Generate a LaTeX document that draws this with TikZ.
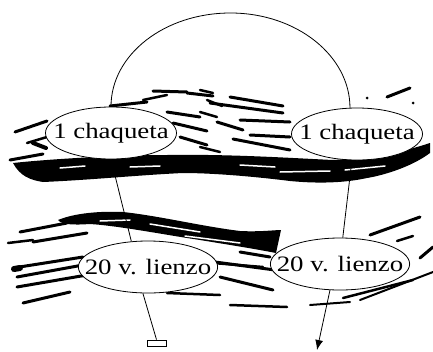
\documentclass[tikz,border=0pt]{standalone}
\usepackage{fontspec}
\newfontfamily\labfont[FakeStretch=1.22]{Liberation Serif}
\usetikzlibrary{shapes.geometric,arrows.meta}

\begin{document}
\begin{tikzpicture}[x=1pt,y=-1pt,
  oval/.style={ellipse,draw,fill=white,line width=0.8pt,inner xsep=-14pt,inner ysep=-4pt,
    minimum width=131pt,minimum height=52pt,font=\labfont\fontsize{22}{25}\selectfont},
  brush/.style={line width=#1,line cap=round},
  link/.style={line width=0.8pt}]
\useasboundingbox (0,0) rectangle (433,351);
% upper brush band
\fill (13,163) .. controls (40,160) and (110,155) .. (167,155) .. controls (230,154) and (290,158) .. (333,160)
  .. controls (370,158) and (400,153) .. (430,143) -- (430,153) .. controls (410,168) and (380,176) .. (367,178)
  .. controls (340,184) and (310,183) .. (290,181) .. controls (250,176) and (210,173) .. (183,173)
  .. controls (140,175) and (90,180) .. (43,182) .. controls (30,180) and (20,176) .. (13,163) -- cycle;
% lower brush band
\fill (58,220) .. controls (75,213) and (100,211) .. (123,212) .. controls (160,216) and (200,226) .. (240,231)
  .. controls (260,232) and (275,230) .. (281,230) -- (276,253) .. controls (250,248) and (230,245) .. (200,240)
  .. controls (160,234) and (120,226) .. (90,224) .. controls (75,225) and (62,225) .. (58,220) -- cycle;
\draw[white,brush=1.5pt] (130,167) -- (160,166) (240,165) -- (275,167) (280,172) -- (330,171)
  (60,168) -- (85,166) (345,170) -- (385,166) (100,221) -- (130,220) (150,224) -- (200,232) (185,236) -- (240,243);
% strokes
\draw[brush=3pt] (110,106) -- (147,102) (153,91) -- (187,92) (187,93) -- (213,96) (167,112) -- (200,117)
  (173,123) -- (207,131) (180,137) -- (207,145) (15,132) -- (47,121) (10,160) -- (43,154)
  (230,97) -- (283,106) (210,103) -- (283,113) (240,120) -- (290,122) (217,122) -- (243,130)
  (250,135) -- (290,137) (233,139) -- (290,150) (387,97) -- (410,88);
\draw[brush=2.5pt] (143,100) -- (167,95) (207,100) -- (222,106) (27,143) -- (47,137) (200,112) -- (217,117)
  (200,147) -- (220,152) (200,90) -- (213,93);
\draw[brush=4pt] (33,143) -- (46,148);
\fill (367,98) circle (1.5) (413,103) circle (1.5);
\draw[brush=3pt] (20,232) -- (67,223) (33,242) -- (87,233) (13,268) -- (83,257) (17,277) -- (83,265)
  (17,287) -- (87,275) (23,303) -- (70,292) (240,252) -- (270,257) (220,277) -- (273,290)
  (370,235) -- (420,217) (420,258) -- (433,247) (215,262) -- (275,270);
\draw[brush=2.5pt] (8,243) -- (33,240) (213,263) -- (263,267) (397,241) -- (413,236) (343,298) -- (413,280)
  (230,305) -- (287,307) (167,293) -- (220,295);
\draw[brush=2pt] (360,300) -- (433,272) (310,305) -- (350,302);
\draw[brush=6pt] (14,269) -- (20,268);
% nodes
\node[oval] (lc) at (111,133) {1 chaqueta};
\node[oval] (rc) at (357,134) {1 chaqueta};
\node[oval] (ll) at (148,267) {20 v. lienzo};
\node[oval] (rl) at (340,264) {20 v. lienzo};
\node[draw,line width=0.8pt,inner sep=0pt,minimum width=19pt,minimum height=6pt] (box) at (156.5,343) {};
\coordinate (top) at (230.5,13);
\coordinate (tip) at (317,350);
% connectors
\draw[link] (lc.north) .. controls +(0,-52) and +(-66,0) .. (top) .. controls +(66,0) and +(0,-52) .. (rc.105);
\draw[link] (lc.south) -- (ll.123);
\draw[link] (ll.-101) -- (box.north);
\draw[link] (rc.-101) -- (rl.84);
\draw[link,-{Latex[length=10pt,width=8pt]}] (rl.-111) -- (tip);
\end{tikzpicture}
\end{document}
